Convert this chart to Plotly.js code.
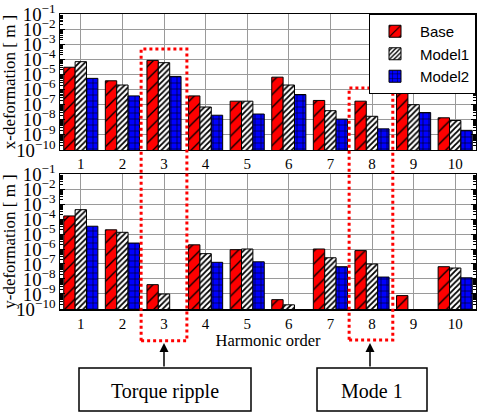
<!DOCTYPE html>
<html>
<head>
<meta charset="utf-8">
<script src="https://cdn.plot.ly/plotly-3.0.1.min.js"></script>
<style>html,body{margin:0;padding:0;background:#fff;}#chart{width:477px;height:414px;}</style>
</head>
<body>
<div id="chart"></div>
<script>
const harmonics = ['1','2','3','4','5','6','7','8','9','10'];
const seriesNames = ['Base','Model1','Model2'];
const xBase   = [3e-5, 3.8e-6, 8.5e-5, 3.8e-7, 1.7e-7, 6.6e-6, 1.9e-7, 1.7e-7, 1e-6, 1.35e-8];
const xModel1 = [7e-5, 2e-6, 6e-5, 7e-8, 1.7e-7, 2e-6, 4e-8, 1.7e-8, 1e-7, 9e-9];
const xModel2 = [5.5e-6, 3.8e-7, 7.4e-6, 2e-8, 2.4e-8, 4.7e-7, 1.1e-8, 2.5e-9, 3e-8, 2e-9];
const yBase   = [1.6e-4, 1.9e-5, 4.2e-9, 1.9e-6, 9e-7, 4.2e-10, 1e-6, 7.8e-7, 7.8e-10, 6.6e-8];
const yModel1 = [4.2e-4, 1.3e-5, 1e-9, 4.9e-7, 1e-6, 1.9e-10, 2.6e-7, 1e-7, null, 5.4e-8];
const yModel2 = [3.3e-5, 2.5e-6, null, 1.3e-7, 1.4e-7, null, 6.6e-8, 1.35e-8, null, 1.2e-8];

const styles = [
  {bg:'#ff0000', shape:'/', size:9, solidity:0.15},
  {bg:'#ffffff', shape:'/', size:4, solidity:0.45},
  {bg:'#0000ff', shape:'+', size:6, solidity:0.18}
];
function mk(i, vals, xa, ya, show){
  const s = styles[i];
  return {
    type:'bar', name:seriesNames[i], x:harmonics, y:vals, xaxis:xa, yaxis:ya,
    legendgroup:seriesNames[i], showlegend:show,
    marker:{color:s.bg, line:{color:'#000', width:1},
      pattern:{shape:s.shape, fgcolor:'#000', bgcolor:s.bg, fillmode:'replace', size:s.size, solidity:s.solidity}}
  };
}
const data = [
  mk(0,xBase,'x','y',true), mk(1,xModel1,'x','y',true), mk(2,xModel2,'x','y',true),
  mk(0,yBase,'x2','y2',false), mk(1,yModel1,'x2','y2',false), mk(2,yModel2,'x2','y2',false)
];
const serif = 'Liberation Serif, Times New Roman, serif';
function yax(title, dom, anchor){
  return {type:'log', range:[-10,-1], dtick:1, exponentformat:'power', domain:dom, anchor:anchor,
    showgrid:true, gridcolor:'#9a9a9a', gridwidth:1, showline:true, linecolor:'#000', linewidth:1.5, mirror:'ticks',
    ticks:'inside', ticklen:5, tickcolor:'#000',
    minor:{ticks:'inside', ticklen:3, tickcolor:'#000', showgrid:false},
    tickfont:{family:serif, size:15, color:'#000'},
    title:{text:title, font:{family:serif, size:17, color:'#000'}, standoff:4}, zeroline:false};
}
function xax(anchor, title){
  const a = {type:'category', anchor:anchor, domain:[0,1], showgrid:true, gridcolor:'#9a9a9a', gridwidth:1,
    showline:true, linecolor:'#000', linewidth:1.5, mirror:true, ticks:'', tickfont:{family:serif, size:15, color:'#000'}};
  if (title) a.title = {text:title, font:{family:serif, size:16.5, color:'#000'}, standoff:2};
  return a;
}
const layout = {
  width:477, height:414,
  margin:{l:60, r:1, t:14, b:105},
  paper_bgcolor:'#fff', plot_bgcolor:'#fff',
  barmode:'group', bargap:0.18, bargroupgap:0,
  xaxis:xax('y'), yaxis:yax('x-deformation [ m ]',[0.539,1],'x'),
  xaxis2:xax('y2','Harmonic order'), yaxis2:yax('y-deformation [ m ]',[0,0.4576],'x2'),
  legend:{x:1, y:1, xanchor:'right', yanchor:'top', bgcolor:'#fff', bordercolor:'#000', borderwidth:1,
    font:{family:'Liberation Sans, Arial, sans-serif', size:15, color:'#000'}, tracegroupgap:0, itemwidth:40},
  shapes:[
    {type:'rect', xref:'x', yref:'paper', x0:1.45, x1:2.55, y0:-0.108, y1:0.881, line:{color:'#ff0000', width:3, dash:'dot'}},
    {type:'rect', xref:'x', yref:'paper', x0:6.45, x1:7.5, y0:-0.105, y1:0.749, line:{color:'#ff0000', width:3, dash:'dot'}},
    {type:'rect', xref:'paper', yref:'paper', x0:(79-60)/416, x1:(251-60)/416, y0:(309-411)/295, y1:(309-368)/295, line:{color:'#000', width:1.5}},
    {type:'rect', xref:'paper', yref:'paper', x0:(317-60)/416, x1:(427-60)/416, y0:(309-411)/295, y1:(309-368)/295, line:{color:'#000', width:1.5}}
  ],
  annotations:[
    {xref:'paper', yref:'paper', x:(165-60)/416, y:(309-391)/295, xanchor:'center', yanchor:'middle', text:'Torque ripple', showarrow:false, font:{family:serif, size:20, color:'#000'}},
    {xref:'paper', yref:'paper', x:(372-60)/416, y:(309-391)/295, xanchor:'center', yanchor:'middle', text:'Mode 1', showarrow:false, font:{family:serif, size:20, color:'#000'}},
    {xref:'paper', yref:'paper', x:(164-60)/416, y:(309-343)/295, ax:0, ay:25, text:'', showarrow:true, arrowhead:2, arrowsize:1.2, arrowwidth:1.5, arrowcolor:'#000'},
    {xref:'paper', yref:'paper', x:(370-60)/416, y:(309-343)/295, ax:0, ay:25, text:'', showarrow:true, arrowhead:2, arrowsize:1.2, arrowwidth:1.5, arrowcolor:'#000'}
  ]
};
Plotly.newPlot('chart', data, layout, {displayModeBar:false, staticPlot:true});
</script>
</body>
</html>
